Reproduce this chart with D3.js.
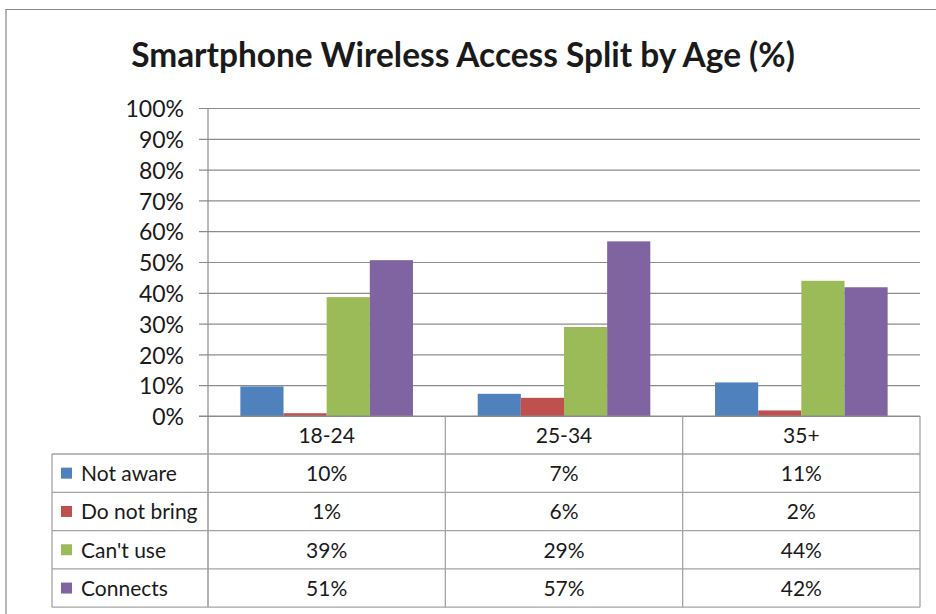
<!DOCTYPE html>
<html>
<head>
<meta charset="utf-8">
<script src="https://cdn.jsdelivr.net/npm/d3@7"></script>
<style>
  html, body { margin: 0; padding: 0; background: #fff; }
  svg { display: block; }
  text { font-family: Lato, "Open Sans", sans-serif; fill: #1a1a1a; }
</style>
</head>
<body>
<svg id="chart" width="936" height="614"></svg>
<script>
// ---- data ----
const title = "Smartphone Wireless Access Split by Age (%)";
const categories = ["18-24", "25-34", "35+"];
const seriesNames = ["Not aware", "Do not bring", "Can't use", "Connects"];
const seriesColors = ["#4F81BD", "#C0504D", "#9BBB59", "#8064A2"];
const notAware   = [0.096, 0.072, 0.109];
const doNotBring = [0.009, 0.059, 0.018];
const cantUse    = [0.386, 0.289, 0.439];
const connects   = [0.506, 0.567, 0.418];
const yTicks = [0, 0.1, 0.2, 0.3, 0.4, 0.5, 0.6, 0.7, 0.8, 0.9, 1.0];

const seriesValues = [notAware, doNotBring, cantUse, connects];
const series = seriesNames.map((name, i) => ({ name, color: seriesColors[i], values: seriesValues[i] }));

// ---- layout ----
const svg = d3.select("#chart");
const plot = { left: 208, right: 920, top: 108, bottom: 416 };
const tableLeft = 52;
const catRowH = 38;
const rowH = 38.3;
const gridColor = "#8c8c8c";
const tableColor = "#a3a3a3";
const fmt = d3.format(".0%");

const x = d3.scaleBand().domain(categories).range([plot.left, plot.right]).paddingInner(0).paddingOuter(0);
const xs = d3.scaleBand().domain(seriesNames).range([0, x.bandwidth()]).paddingInner(0).paddingOuter(0.75);
const y = d3.scaleLinear().domain([0, 1]).range([plot.bottom, plot.top]);

// outer chart border
svg.append("path").attr("d", "M6,614 V9.5 H936").attr("fill", "none").attr("stroke", "#878787").attr("stroke-width", 1.2);

// title
const t = svg.append("text").attr("x", 463).attr("y", 67).attr("text-anchor", "middle")
  .attr("font-weight", "bold").attr("font-size", 30).text(title);
const tw = t.node().getComputedTextLength();
t.attr("font-size", 30 * 664 / tw);

// y axis with gridlines
const yAxis = d3.axisLeft(y).tickValues(yTicks).tickFormat(fmt)
  .tickSize(-(plot.right - plot.left)).tickPadding(0);
const ga = svg.append("g").attr("transform", `translate(${plot.left},0)`).call(yAxis);
ga.select(".domain").remove();
ga.selectAll(".tick line").attr("x1", -9).attr("stroke", gridColor).attr("stroke-width", 1.2);
ga.selectAll(".tick text").attr("x", -24).attr("dy", "0.38em")
  .attr("font-size", 23).attr("font-family", "Lato, sans-serif").attr("fill", "#1a1a1a");

// vertical axis line
svg.append("line").attr("x1", plot.left).attr("x2", plot.left).attr("y1", plot.top).attr("y2", plot.bottom)
  .attr("stroke", gridColor).attr("stroke-width", 1.2);

// bars
const groups = svg.append("g").selectAll("g").data(series).join("g").attr("fill", d => d.color);
groups.selectAll("rect").data(d => d.values.map((v, i) => ({ v, cat: categories[i], name: d.name })))
  .join("rect")
  .attr("x", d => x(d.cat) + xs(d.name))
  .attr("width", xs.bandwidth())
  .attr("y", d => y(d.v))
  .attr("height", d => plot.bottom - y(d.v));

// ---- data table ----
const tableTop = plot.bottom;
const rowsTop = tableTop + catRowH;
const tableBottom = rowsTop + rowH * series.length;
const tg = svg.append("g").attr("stroke", tableColor).attr("stroke-width", 1.3);
const colEdges = categories.map(c => x(c)).concat([plot.right]);
colEdges.forEach((cx, i) => {
  tg.append("line").attr("x1", cx).attr("x2", cx).attr("y1", tableTop).attr("y2", tableBottom)
    .attr("stroke", i === 0 ? gridColor : tableColor);
});
tg.append("line").attr("x1", tableLeft).attr("x2", tableLeft).attr("y1", rowsTop).attr("y2", tableBottom);
d3.range(series.length + 1).forEach(i => {
  const yy = rowsTop + i * rowH;
  tg.append("line").attr("x1", tableLeft).attr("x2", plot.right).attr("y1", yy).attr("y2", yy);
});
svg.append("line").attr("x1", plot.left - 9).attr("x2", plot.right).attr("y1", plot.bottom).attr("y2", plot.bottom)
  .attr("stroke", gridColor).attr("stroke-width", 1.2);

// category labels
svg.append("g").selectAll("text").data(categories).join("text")
  .attr("x", d => x(d) + x.bandwidth() / 2)
  .attr("y", tableTop + catRowH / 2)
  .attr("dy", "0.38em").attr("text-anchor", "middle").attr("font-size", 21)
  .text(d => d);

// legend rows + values
const rows = svg.append("g").selectAll("g").data(series).join("g")
  .attr("transform", (d, i) => `translate(0,${rowsTop + i * rowH + rowH / 2})`);
rows.append("rect").attr("x", 61).attr("y", -5.5).attr("width", 11).attr("height", 11).attr("fill", d => d.color);
rows.append("text").attr("x", 81).attr("dy", "0.38em").attr("font-size", 21).text(d => d.name);
rows.selectAll("text.val").data(d => d.values.map((v, i) => ({ v, cat: categories[i] })))
  .join("text").attr("class", "val")
  .attr("x", d => x(d.cat) + x.bandwidth() / 2)
  .attr("dy", "0.38em").attr("text-anchor", "middle").attr("font-size", 21)
  .text(d => fmt(d.v));
</script>
</body>
</html>
